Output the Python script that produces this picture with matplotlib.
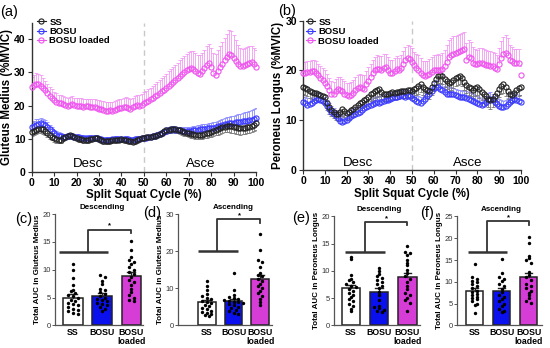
import numpy as np
import matplotlib
matplotlib.use('Agg')
import matplotlib.pyplot as plt
from matplotlib.lines import Line2D

plt.rcParams['font.family'] = ['Liberation Sans', 'DejaVu Sans']

# ---------------- data ----------------
cycle_pct = list(range(0, 101))
series_names = ['SS', 'BOSU', 'BOSU loaded']
bar_labels = ['SS', 'BOSU', 'BOSU\nloaded']

# (a) Gluteus medius
a_ss = [12.1, 12.4, 12.7, 12.9, 13.0, 12.8, 12.3, 11.7, 11.1, 10.6,
        10.1, 9.8, 9.6, 9.7, 10.2, 10.6, 10.9, 11.0, 10.8, 10.5,
        10.2, 10.0, 9.9, 9.7, 9.6, 9.6, 9.8, 10.0, 10.2, 10.1,
        9.8, 9.5, 9.3, 9.2, 9.3, 9.4, 9.5, 9.6, 9.7, 9.7,
        9.8, 9.7, 9.6, 9.4, 9.2, 9.1, 9.3, 9.6, 9.9, 10.1,
        10.3, 10.4, 10.5, 10.6, 10.7, 10.9, 11.1, 11.4, 11.8, 12.2,
        12.5, 12.7, 12.8, 12.9, 12.8, 12.7, 12.5, 12.2, 12.0, 11.8,
        11.6, 11.4, 11.3, 11.2, 11.1, 11.1, 11.2, 11.4, 11.6, 11.8,
        12.0, 12.2, 12.5, 12.8, 13.1, 13.4, 13.6, 13.8, 13.8, 13.7,
        13.6, 13.4, 13.2, 13.1, 13.1, 13.2, 13.4, 13.6, 13.8, 14.2,
        14.6]
a_ss_err = [1.2, 1.2, 1.3, 1.3, 1.3, 1.3, 1.2, 1.2, 1.1, 1.1,
            1.0, 1.0, 1.0, 1.0, 1.0, 1.0, 1.0, 1.0, 0.9, 0.9,
            0.9, 0.9, 0.9, 0.9, 0.9, 0.8, 0.8, 0.8, 0.8, 0.8,
            0.8, 0.8, 0.8, 0.8, 0.8, 0.8, 0.8, 0.8, 0.8, 0.8,
            0.8, 0.8, 0.8, 0.8, 0.8, 0.8, 0.8, 0.8, 0.8, 0.8,
            0.8, 0.8, 0.8, 0.8, 0.8, 0.9, 0.9, 0.9, 0.9, 0.9,
            1.0, 1.0, 1.0, 1.0, 1.0, 1.0, 1.0, 1.0, 1.1, 1.1,
            1.1, 1.1, 1.2, 1.2, 1.2, 1.2, 1.3, 1.3, 1.3, 1.4,
            1.4, 1.5, 1.5, 1.6, 1.6, 1.7, 1.7, 1.8, 1.8, 1.9,
            1.9, 1.9, 1.9, 1.9, 1.8, 1.8, 1.8, 1.8, 1.9, 1.9,
            2.0]
a_bosu = [13.6, 13.9, 14.2, 14.4, 14.6, 14.5, 14.2, 13.6, 12.9, 12.2,
          11.6, 11.2, 10.9, 10.7, 10.6, 10.6, 10.7, 10.8, 10.7, 10.6,
          10.5, 10.4, 10.3, 10.2, 10.1, 10.1, 10.2, 10.3, 10.3, 10.2,
          10.0, 9.8, 9.7, 9.6, 9.6, 9.7, 9.8, 9.9, 9.9, 9.8,
          9.8, 9.8, 9.9, 9.8, 9.7, 9.7, 9.8, 9.9, 10.0, 10.1,
          10.2, 10.3, 10.4, 10.5, 10.7, 10.9, 11.2, 11.5, 11.8, 12.1,
          12.4, 12.6, 12.7, 12.8, 12.7, 12.6, 12.5, 12.4, 12.3, 12.3,
          12.3, 12.4, 12.5, 12.6, 12.7, 12.8, 12.9, 13.0, 13.1, 13.1,
          13.2, 13.3, 13.5, 13.7, 13.9, 14.1, 14.3, 14.5, 14.6, 14.7,
          14.8, 14.9, 15.0, 15.1, 15.2, 15.3, 15.4, 15.5, 15.7, 15.9,
          16.1]
a_bosu_err = [1.5, 1.5, 1.6, 1.6, 1.6, 1.5, 1.5, 1.4, 1.3, 1.2,
              1.1, 1.0, 1.0, 1.0, 0.9, 0.9, 0.9, 0.9, 0.9, 0.9,
              0.9, 0.8, 0.8, 0.8, 0.8, 0.8, 0.8, 0.8, 0.8, 0.8,
              0.8, 0.8, 0.8, 0.8, 0.8, 0.8, 0.8, 0.8, 0.8, 0.8,
              0.8, 0.8, 0.8, 0.8, 0.8, 0.8, 0.8, 0.8, 0.8, 0.8,
              0.8, 0.8, 0.8, 0.8, 0.8, 0.8, 0.9, 0.9, 0.9, 0.9,
              1.0, 1.0, 1.0, 1.0, 1.0, 1.0, 1.1, 1.1, 1.1, 1.1,
              1.2, 1.2, 1.2, 1.3, 1.3, 1.3, 1.4, 1.4, 1.4, 1.5,
              1.5, 1.6, 1.6, 1.7, 1.7, 1.8, 1.8, 1.9, 1.9, 2.0,
              2.1, 2.2, 2.3, 2.4, 2.5, 2.6, 2.7, 2.8, 2.9, 3.0,
              3.0]
a_loaded = [25.5, 26.2, 26.5, 26.4, 26.0, 25.4, 24.6, 23.8, 23.0, 22.3,
            21.7, 21.2, 20.9, 20.7, 20.5, 20.2, 20.0, 20.3, 20.4, 20.1,
            19.9, 20.0, 19.8, 19.6, 19.8, 19.7, 19.5, 19.6, 19.4, 19.3,
            19.0, 18.8, 18.6, 18.4, 18.3, 18.5, 18.2, 18.5, 18.8, 19.1,
            19.3, 19.4, 19.6, 19.2, 18.9, 19.4, 19.9, 20.2, 20.0, 20.3,
            20.8, 21.1, 21.5, 21.9, 22.3, 22.8, 23.3, 23.8, 24.3, 24.8,
            25.4, 26.0, 26.5, 27.1, 27.7, 28.2, 28.8, 29.4, 30.0, 30.6,
            31.0, 31.3, 31.0, 30.4, 29.8, 29.6, 30.3, 31.2, 32.2, 32.8,
            31.5, 29.8, 29.3, 30.5, 31.6, 32.6, 33.6, 34.6, 35.6, 35.3,
            34.4, 33.5, 32.6, 32.0, 31.8, 32.2, 32.5, 32.8, 33.1, 32.4,
            31.7]
a_loaded_err = [3.0, 3.1, 3.2, 3.2, 3.1, 3.0, 2.9, 2.8, 2.7, 2.6,
                2.5, 2.5, 2.4, 2.4, 2.4, 2.3, 2.3, 2.4, 2.4, 2.3,
                2.3, 2.3, 2.4, 2.4, 2.3, 2.3, 2.4, 2.4, 2.5, 2.5,
                2.6, 2.6, 2.7, 2.7, 2.7, 2.7, 2.8, 2.8, 2.8, 2.8,
                2.8, 2.9, 2.9, 3.0, 3.0, 3.0, 3.0, 3.0, 3.1, 3.1,
                3.2, 3.3, 3.4, 3.5, 3.6, 3.7, 3.8, 3.9, 4.0, 4.1,
                4.2, 4.3, 4.4, 4.5, 4.6, 4.7, 4.8, 4.9, 5.0, 5.1,
                5.2, 5.3, 5.4, 5.5, 5.5, 5.6, 5.6, 5.7, 5.8, 5.9,
                6.0, 6.1, 6.2, 6.3, 6.5, 6.7, 6.9, 7.1, 7.3, 7.2,
                6.8, 6.3, 5.8, 5.5, 5.4, 5.3, 5.2, 5.1, 5.0, 5.0,
                5.0]

# (b) Peroneus longus
b_ss = [16.6, 16.4, 16.2, 15.9, 15.6, 15.5, 15.4, 15.2, 15.1, 14.9,
        14.6, 13.5, 12.6, 12.1, 11.7, 11.3, 11.2, 11.7, 12.2, 11.9,
        11.4, 11.6, 12.0, 12.2, 12.6, 13.0, 13.4, 13.7, 14.0, 14.3,
        14.7, 15.2, 15.5, 15.8, 16.0, 16.2, 15.6, 15.3, 15.2, 15.3,
        15.4, 15.6, 15.4, 15.6, 15.7, 15.9, 15.8, 15.8, 16.0, 16.1,
        15.9, 16.2, 16.5, 16.8, 17.2, 16.6, 16.3, 16.0, 15.8, 16.6,
        17.5, 18.3, 18.8, 19.1, 18.8, 18.3, 17.8, 17.4, 17.6, 18.0,
        18.4, 18.6, 18.8, 18.4, 17.6, 17.1, 16.7, 16.4, 16.0, 16.4,
        16.7, 16.2, 15.7, 15.2, 14.8, 14.3, 14.0, 14.3, 14.8, 15.5,
        16.3, 16.9, 17.2, 16.6, 15.8, 15.3, 15.0, 15.4, 16.0, 16.5,
        16.7]
b_ss_err = [1.4, 1.4, 1.4, 1.4, 1.4, 1.4, 1.4, 1.4, 1.4, 1.4,
            1.4, 1.4, 1.3, 1.3, 1.3, 1.3, 1.3, 1.3, 1.3, 1.3,
            1.3, 1.3, 1.3, 1.3, 1.3, 1.3, 1.3, 1.3, 1.4, 1.4,
            1.4, 1.4, 1.4, 1.4, 1.4, 1.4, 1.4, 1.4, 1.4, 1.4,
            1.4, 1.4, 1.4, 1.4, 1.4, 1.4, 1.4, 1.4, 1.4, 1.4,
            1.5, 1.5, 1.5, 1.5, 1.5, 1.5, 1.5, 1.5, 1.5, 1.5,
            1.6, 1.6, 1.6, 1.6, 1.6, 1.6, 1.6, 1.6, 1.6, 1.6,
            1.6, 1.6, 1.6, 1.6, 1.6, 1.6, 1.6, 1.6, 1.6, 1.6,
            1.7, 1.7, 1.7, 1.7, 1.7, 1.7, 1.7, 1.7, 1.7, 1.7,
            1.7, 1.7, 1.7, 1.7, 1.6, 1.6, 1.6, 1.6, 1.6, 1.6,
            1.6]
b_bosu = [13.7, 13.4, 13.1, 13.2, 13.4, 13.8, 14.1, 14.2, 14.1, 13.9,
          13.4, 12.8, 12.2, 11.7, 11.2, 10.9, 10.4, 9.9, 9.7, 9.8,
          10.0, 10.4, 10.8, 11.1, 11.3, 11.5, 11.7, 12.0, 12.4, 12.6,
          12.9, 13.1, 13.3, 13.5, 13.6, 13.5, 13.6, 13.8, 14.0, 14.1,
          14.3, 14.5, 14.6, 14.6, 14.8, 15.0, 14.8, 14.7, 14.9, 14.8,
          14.5, 14.2, 13.9, 13.6, 13.5, 13.8, 14.2, 14.8, 15.3, 15.8,
          16.4, 16.7, 16.6, 16.2, 16.0, 15.6, 15.3, 15.2, 15.3, 15.2,
          15.0, 14.8, 14.7, 14.6, 14.7, 14.5, 14.3, 14.1, 13.9, 13.7,
          13.5, 13.3, 13.0, 13.2, 13.6, 14.1, 14.3, 14.0, 13.6, 13.2,
          12.9, 12.7, 12.6, 12.8, 13.2, 13.6, 14.0, 14.3, 14.0, 13.8,
          13.7]
b_bosu_err = [1.3, 1.3, 1.3, 1.3, 1.3, 1.3, 1.3, 1.3, 1.3, 1.3,
              1.3, 1.3, 1.3, 1.2, 1.2, 1.2, 1.2, 1.2, 1.2, 1.2,
              1.2, 1.2, 1.2, 1.2, 1.2, 1.2, 1.2, 1.2, 1.2, 1.2,
              1.2, 1.2, 1.2, 1.2, 1.2, 1.2, 1.2, 1.2, 1.2, 1.2,
              1.2, 1.2, 1.2, 1.2, 1.2, 1.2, 1.2, 1.2, 1.2, 1.2,
              1.2, 1.2, 1.2, 1.2, 1.2, 1.2, 1.2, 1.2, 1.2, 1.2,
              1.3, 1.3, 1.3, 1.3, 1.3, 1.3, 1.3, 1.3, 1.3, 1.3,
              1.3, 1.3, 1.3, 1.3, 1.3, 1.3, 1.3, 1.3, 1.3, 1.3,
              1.3, 1.3, 1.3, 1.3, 1.3, 1.3, 1.3, 1.3, 1.3, 1.3,
              1.3, 1.3, 1.3, 1.3, 1.3, 1.3, 1.3, 1.3, 1.3, 1.3,
              1.3]
b_loaded = [19.4, 19.5, 19.6, 19.7, 19.8, 19.9, 19.5, 19.0, 18.5, 18.0,
            17.5, 16.8, 16.0, 15.3, 15.2, 15.8, 16.2, 16.1, 15.8, 15.3,
            15.0, 14.9, 15.1, 15.4, 16.0, 16.4, 16.6, 16.5, 16.3, 17.2,
            17.9, 18.6, 19.4, 20.0, 20.3, 20.2, 20.1, 20.5, 20.6, 20.0,
            19.5, 19.4, 19.9, 20.2, 20.0, 20.5, 21.3, 22.2, 22.6, 22.4,
            21.8, 21.0, 20.5, 20.1, 19.5, 19.0, 18.9, 19.0, 19.3, 19.7,
            20.0, 20.1, 20.1, 20.0, 20.2, 20.9, 21.8, 22.7, 23.1, 23.4,
            23.5, 23.7, 23.9, 24.1, 24.4, 22.2, 22.8, 22.6, 21.6, 21.3,
            21.2, 21.5, 21.6, 21.4, 21.1, 21.0, 20.9, 20.8, 20.5, 20.2,
            21.4, 22.6, 23.3, 23.6, 23.2, 22.2, 21.9, 21.6, 21.5, 21.6,
            19.1]
b_loaded_err = [2.3, 2.3, 2.3, 2.3, 2.3, 2.3, 2.4, 2.4, 2.4, 2.4,
                2.5, 2.5, 2.5, 2.5, 2.5, 2.5, 2.5, 2.5, 2.5, 2.5,
                2.5, 2.5, 2.5, 2.6, 2.6, 2.6, 2.6, 2.6, 2.7, 2.7,
                2.7, 2.7, 2.8, 2.8, 2.8, 2.8, 2.8, 2.8, 2.8, 2.8,
                2.7, 2.7, 2.7, 2.7, 2.6, 2.6, 2.6, 2.6, 2.6, 2.6,
                2.7, 2.8, 2.9, 3.0, 3.0, 3.0, 3.0, 3.0, 3.0, 3.0,
                3.1, 3.1, 3.2, 3.2, 3.3, 3.3, 3.4, 3.4, 3.5, 3.5,
                3.5, 3.5, 3.5, 3.5, 3.4, 3.3, 3.3, 3.2, 3.1, 3.0,
                3.0, 3.0, 3.0, 3.0, 3.0, 3.0, 3.0, 3.0, 3.0, 3.0,
                3.2, 3.4, 3.5, 3.5, 3.3, 3.0, 2.9, 2.8, 2.8, 2.8,
                1.7]

# (c)-(f) totals: bar means, SEM and individual subjects
c_means = [5.0, 5.3, 8.9]
c_sem = [0.55, 0.45, 0.75]
c_points = [[11.0, 10.0, 8.5, 7.2, 6.4, 6.1, 5.8, 5.5, 5.2, 4.9, 4.6, 4.4, 4.1, 3.9, 3.6, 3.3, 3.0, 2.8, 2.5, 2.3, 2.1],
            [9.0, 8.7, 8.0, 7.5, 6.6, 6.3, 6.0, 5.7, 5.3, 5.0, 4.8, 4.6, 4.4, 4.1, 3.9, 3.6, 3.3, 3.0, 2.6],
            [15.2, 13.6, 12.2, 11.8, 11.4, 11.0, 10.4, 10.0, 9.6, 9.2, 8.6, 8.2, 7.8, 7.2, 6.6, 6.0, 5.4, 5.0, 4.6, 4.4]]
d_means = [6.2, 6.6, 12.6]
d_sem = [0.6, 0.6, 1.1]
d_points = [[12.0, 10.6, 9.6, 8.4, 7.8, 7.4, 7.0, 6.6, 6.3, 6.0, 5.6, 5.2, 4.8, 4.4, 4.0, 3.6, 3.3, 3.0, 2.8, 2.5],
            [14.2, 9.6, 8.2, 7.6, 7.4, 7.0, 6.8, 6.5, 6.4, 6.2, 6.0, 5.7, 5.4, 5.0, 4.6, 4.2, 3.8, 3.4, 3.0],
            [24.5, 20.4, 17.6, 17.2, 15.6, 14.2, 13.6, 13.2, 12.6, 12.0, 11.2, 10.6, 10.0, 9.2, 8.6, 8.0, 7.2, 6.2, 5.6]]
e_means = [6.9, 6.2, 8.9]
e_sem = [0.6, 0.6, 0.8]
e_points = [[12.6, 12.2, 9.3, 8.6, 8.3, 8.0, 7.6, 7.3, 7.0, 6.7, 6.4, 6.0, 5.6, 5.2, 4.8, 4.4, 4.0, 3.5, 3.0, 2.6],
            [10.5, 10.0, 9.5, 9.0, 8.7, 8.3, 8.0, 7.6, 7.2, 6.8, 6.2, 5.5, 4.6, 3.6, 3.3, 3.1, 2.9, 2.7, 2.5],
            [14.5, 13.5, 13.3, 12.9, 12.0, 11.5, 11.0, 10.2, 9.6, 9.0, 8.5, 8.0, 7.2, 6.6, 6.0, 5.6, 5.0, 4.6, 4.2, 2.6]]
f_means = [8.0, 7.9, 11.0]
f_sem = [0.6, 0.7, 1.0]
f_points = [[14.2, 11.0, 10.7, 10.3, 10.0, 9.5, 9.0, 8.5, 8.0, 7.6, 7.2, 6.9, 6.6, 6.3, 6.0, 5.5, 5.0, 4.6, 2.8],
            [15.3, 12.0, 11.2, 10.6, 10.1, 9.6, 9.0, 8.4, 7.6, 7.0, 6.5, 6.0, 5.5, 5.0, 4.5, 3.8, 3.4, 3.0],
            [20.3, 19.0, 16.0, 15.5, 15.0, 14.4, 12.2, 11.6, 11.0, 10.4, 9.6, 9.0, 8.5, 8.0, 7.5, 7.0, 6.2, 5.6, 5.2]]

# ---------------- styling ----------------
C_SS, E_SS = '#222222', '#7a7a7a'
C_BO, E_BO = '#3a3aff', '#8c8cff'
C_BL, E_BL = '#ee55ee', '#f29af2'
BAR_COLORS = ['white', '#0a10ee', '#d63cd6']

fig = plt.figure(figsize=(5.5, 3.48), dpi=100)


def one_sided(ax, x, y, err, direction, ecolor):
    x = np.asarray(x); y = np.asarray(y); err = np.asarray(err)
    end = y - err if direction == 'down' else y + err
    ax.vlines(x, y, end, color=ecolor, lw=0.6, zorder=1)
    ax.plot(x, end, linestyle='none', marker='_', ms=2.8, mew=0.6, color=ecolor, zorder=1)


def line_panel(rect, draw_order, legend_series, ylim, yticks, ylabel, leg_anchor, desc_y):
    ax = fig.add_axes(rect)
    for vals, err, col, ecol, direc in draw_order:
        one_sided(ax, cycle_pct, vals, err, direc, ecol)
    for vals, err, col, ecol, direc in draw_order:
        ax.plot(cycle_pct, vals, linestyle='none', marker='o', mfc='none', mec=col,
                ms=3.7, mew=0.8, zorder=3, clip_on=False)
    ax.axvline(50, color='#c8c8c8', lw=1.0, ls=(0, (4, 3)), zorder=0)
    ax.set_xlim(0, 100)
    ax.set_ylim(*ylim)
    ax.set_xticks(range(0, 101, 10))
    ax.set_yticks(yticks)
    for s in ['top', 'right']:
        ax.spines[s].set_visible(False)
    for s in ['left', 'bottom']:
        ax.spines[s].set_linewidth(1.0)
        ax.spines[s].set_color('#333333')
    ax.tick_params(length=3, width=0.8, labelsize=7.5, pad=1.5, colors='#333333')
    for t in ax.get_xticklabels() + ax.get_yticklabels():
        t.set_fontweight('bold'); t.set_color('black')
    ax.set_xlabel('Split Squat Cycle (%)', fontsize=8.3, fontweight='bold', labelpad=1)
    ax.set_ylabel(ylabel, fontsize=8.3, fontweight='bold', labelpad=1)
    ax.text(25, desc_y, 'Desc', ha='center', va='bottom', fontsize=9.5)
    ax.text(75.5, desc_y, 'Asce', ha='center', va='bottom', fontsize=9.5)
    handles = [Line2D([], [], color=c, marker='o', mfc='none', mec=c, ms=3.7, mew=0.8, lw=0.8)
               for c in legend_series]
    leg = ax.legend(handles, series_names, loc='upper left', bbox_to_anchor=leg_anchor,
                    frameon=False, fontsize=6.8, handlelength=1.0, handletextpad=0.35,
                    labelspacing=0.05, borderaxespad=0, borderpad=0)
    for t in leg.get_texts():
        t.set_fontweight('bold')
    return ax


legend_colors = [C_SS, C_BO, C_BL]

ax_a = line_panel([0.0576, 0.5066, 0.408, 0.428],
                  [(a_bosu, a_bosu_err, C_BO, E_BO, 'up'),
                   (a_ss, a_ss_err, C_SS, E_SS, 'down'),
                   (a_loaded, a_loaded_err, C_BL, E_BL, 'up')],
                  legend_colors, (0, 45), [0, 10, 20, 30, 40], 'Gluteus Medius (%MVIC)',
                  (0.022, 1.035), 0.6)
ax_b = line_panel([0.551, 0.5115, 0.396, 0.429],
                  [(b_bosu, b_bosu_err, C_BO, E_BO, 'up'),
                   (b_ss, b_ss_err, C_SS, E_SS, 'down'),
                   (b_loaded, b_loaded_err, C_BL, E_BL, 'up')],
                  legend_colors, (0, 30), [0, 10, 20, 30], 'Peroneus Longus (%MVIC)',
                  (0.012, 1.02), 0.3)


def bar_panel(rect, xlim, means, sem, points, ylim, yticks, ylabel, title, bracket, binw):
    ax = fig.add_axes(rect)
    xs = np.arange(len(means))
    ax.bar(xs, means, width=0.66, color=BAR_COLORS, edgecolor='#222222', linewidth=1.1, zorder=1)
    for x, m, s in zip(xs, means, sem):
        ax.plot([x, x], [m, m + s], color='#222222', lw=1.0, zorder=2)
        ax.plot([x - 0.13, x + 0.13], [m + s, m + s], color='#222222', lw=1.0, zorder=2)
    # simple swarm layout of individual points
    for x, vals in zip(xs, points):
        vals = np.asarray(vals)
        bins = np.floor(vals / binw)
        offs = np.zeros(len(vals))
        for b in np.unique(bins):
            idx = np.where(bins == b)[0]
            n = len(idx)
            offs[idx] = (np.arange(n) - (n - 1) / 2) * 0.17
        ax.scatter(x + offs, vals, s=6, color='black', zorder=3, linewidths=0)
    # significance bracket
    lo_y, lo_x0, lo_x1, vx, hi_y, end_y = bracket
    ax.plot([lo_x0, lo_x1], [lo_y, lo_y], color='#333333', lw=1.8, solid_capstyle='butt')
    ax.plot([vx, vx, 2, 2], [lo_y, hi_y, hi_y, end_y], color='#333333', lw=1.3)
    ax.text((vx + 2) / 2 + 0.02, hi_y, '*', ha='center', va='bottom', fontsize=5.5, fontweight='bold')
    ax.set_xlim(*xlim)
    ax.set_ylim(*ylim)
    ax.set_yticks(yticks)
    ax.set_xticks(xs)
    ax.set_xticklabels(bar_labels)
    for s in ['top', 'right']:
        ax.spines[s].set_visible(False)
    for s in ['left', 'bottom']:
        ax.spines[s].set_linewidth(0.9)
        ax.spines[s].set_color('#555555')
    ax.tick_params(axis='y', length=2, width=0.7, labelsize=5.5, pad=1, colors='#555555')
    ax.tick_params(axis='x', length=0, labelsize=6.3, pad=2)
    for t in ax.get_xticklabels():
        t.set_fontweight('bold'); t.set_linespacing(1.0)
    for t in ax.get_yticklabels():
        t.set_color('#333333')
    ax.set_ylabel(ylabel, fontsize=5.8, fontweight='bold', labelpad=1)
    ax.text(1, 1.03, title, transform=ax.get_xaxis_transform(), ha='center', va='bottom',
            fontsize=5.8, fontweight='bold')
    return ax


ax_c = bar_panel([0.100, 0.065, 0.160, 0.320], (-0.62, 2.41), c_means, c_sem, c_points,
                 (0, 20), [0, 5, 10, 15, 20], 'Total AUC in Gluteus Medius', 'Descending',
                 (13.2, -0.47, 1.2, 0.5, 17.2, 16.6), 0.7)
ax_d = bar_panel([0.3236, 0.065, 0.171, 0.320], (-1.09, 2.45), d_means, d_sem, d_points,
                 (0, 30), [0, 10, 20, 30], 'Total AUC in Gluteus Medius', 'Ascending',
                 (20.0, -0.34, 1.17, 0.38, 28.6, 27.7), 1.0)
ax_e = bar_panel([0.607, 0.065, 0.157, 0.313], (-0.61, 2.46), e_means, e_sem, e_points,
                 (0, 20), [0, 5, 10, 15, 20], 'Total AUC in Peroneus Longus', 'Descending',
                 (13.4, -0.21, 1.21, 0.5, 18.9, 18.5), 0.7)
ax_f = bar_panel([0.831, 0.065, 0.154, 0.313], (-0.65, 2.49), f_means, f_sem, f_points,
                 (0, 25), [0, 5, 10, 15, 20, 25], 'Total AUC in Peroneus Longus', 'Ascending',
                 (16.9, -0.24, 1.2, 0.46, 23.9, 23.1), 0.8)

# panel letters
for lab, x, y in [('(a)', 9, 12), ('(b)', 287, 11), ('(c)', 24, 219), ('(d)', 152, 213),
                  ('(e)', 301, 218), ('(f)', 427, 213)]:
    fig.text(x / 550, 1 - y / 348, lab, ha='center', va='center', fontsize=10.5)

fig.savefig('out.png', dpi=100)
